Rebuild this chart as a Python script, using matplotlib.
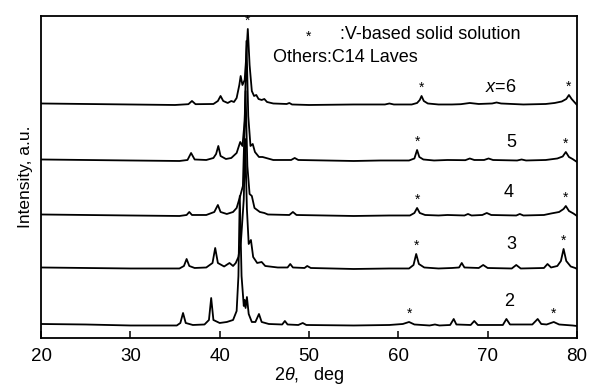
import matplotlib
matplotlib.use('Agg')
import matplotlib.pyplot as plt

plt.rcParams['font.family'] = ['Liberation Sans', 'DejaVu Sans']
plt.rcParams['mathtext.fontset'] = 'custom'
plt.rcParams['mathtext.rm'] = 'Liberation Sans'
plt.rcParams['mathtext.it'] = 'Liberation Sans:italic'

# 2theta / intensity, intensity in px above each baseline
tt_6 = [20, 25, 30, 35, 36.5, 36.9, 37.3, 39.3, 39.8, 40.1, 40.4, 40.9, 41.3, 41.6,
        41.9, 42.2, 42.35, 42.55, 42.8, 42.95, 43.15, 43.35, 43.6, 43.85, 44.1, 44.35,
        44.7, 45.0, 45.3, 46, 47.5, 47.8, 48.1, 50, 55, 58.5, 59, 59.5, 61.5, 62.1,
        62.4, 62.6, 62.85, 63.3, 64.5, 66, 67, 68, 69, 70.5, 71, 71.5, 74, 76.5, 77.5,
        78.3, 78.8, 79.1, 79.4, 79.7, 80]
int_6 = [1.5, 1, 0.5, 0, 0.8, 4, 0.8, 1, 4, 9, 4, 2, 4, 3,
         7, 20, 29, 20, 25, 45, 76, 40, 14, 9, 10, 6,
         5, 6, 3, 1.5, 1, 2, 0.5, 0, 0.5, 0.5, 1.5, 0.5, 0.5, 2,
         5, 9, 4, 1.5, 0.5, 0.5, 0.8, 2, 1, 1.5, 2.5, 1.5, 0.5, 1, 2,
         3.5, 6, 10, 6, 3, 0]

tt_5 = [20, 25, 30, 35.5, 36.4, 36.8, 37.2, 38.5, 39.3, 39.6, 39.85, 40.1, 40.7, 41.3,
        41.9, 42.3, 42.55, 42.8, 43.0, 43.2, 43.45, 43.7, 43.95, 44.4, 44.8, 45.2, 46,
        48.0, 48.4, 48.8, 55, 58, 61.2, 61.8, 62.1, 62.35, 62.8, 64, 65.5, 67.5, 68.0,
        68.5, 69.6, 70.1, 70.6, 73.3, 73.8, 74.3, 76.5, 77.8, 78.4, 78.75, 79.1, 79.5, 80]
int_5 = [1.5, 1, 0.5, 0, 1, 8, 1.5, 1, 3, 7, 15, 5, 2, 3,
         8, 19, 15, 40, 120, 45, 15, 17, 9, 4, 4, 3, 1,
         1, 3, 1, 0, 0.5, 0.5, 2.5, 11, 4, 1.5, 0.5, 1, 0.8, 2.5,
         1, 1, 2.5, 1, 0.5, 1.5, 0.5, 1, 2.5, 4.5, 9, 4, 2, -1]

tt_4 = [20, 25, 30, 35.5, 36.3, 36.6, 36.9, 38.5, 39.4, 39.8, 40.1, 40.8, 41.5, 41.9,
        42.3, 42.6, 42.9, 43.1, 43.35, 43.6, 43.9, 44.5, 45.0, 45.4, 47.8, 48.2, 48.6,
        55, 59, 61.3, 61.8, 62.1, 62.4, 63, 64.5, 65.5, 67.4, 67.8, 68.2, 69.4, 69.9,
        70.4, 73.2, 73.6, 74, 76.3, 77.1, 78.0, 78.5, 78.75, 79.1, 79.6, 80]
int_4 = [1.5, 1, 0.5, 0, 1, 4, 1, 1, 4, 11, 4, 2, 4, 8,
         20, 30, 125, 50, 22, 20, 8, 4, 3, 1.5, 1, 4, 1,
         0, 0.5, 0.5, 3, 8, 3, 1, 0.5, 1, 0.5, 2, 0.5, 1, 3,
         1, 0.5, 2, 0.5, 1, 2.5, 4, 7, 10, 5, 2.5, 0]

tt_3 = [20, 25, 30, 35.5, 36.0, 36.3, 36.6, 37.2, 38.5, 39.2, 39.5, 39.8, 40.5, 41.1,
        41.5, 41.8, 42.1, 42.4, 42.7, 42.85, 43.05, 43.25, 43.5, 43.75, 44.2, 44.7,
        45.1, 46.5, 47.6, 47.9, 48.2, 49.5, 49.8, 50.2, 55, 59, 61.2, 61.7, 62.0, 62.3,
        62.9, 64.5, 66, 66.8, 67.1, 67.4, 69.0, 69.5, 70.0, 72.7, 73.2, 73.7, 76.3,
        76.7, 77.1, 77.8, 78.2, 78.5, 78.8, 79.3, 79.8, 80]
int_3 = [1.5, 1, 0.5, 0.5, 3, 10, 3, 1, 1.5, 6, 21, 6, 2.5, 6,
         3, 6, 12, 30, 70, 130, 60, 25, 29, 12, 6, 7,
         3, 1.5, 1.5, 5, 1.5, 1, 3, 1, 0, 0.5, 0.5, 4, 15, 5,
         1.5, 0.5, 1, 1.5, 6, 1.5, 1, 4, 1, 0.5, 4, 0.5, 1,
         5, 1.5, 3, 8, 20, 8, 2.5, 1, 0]

tt_2 = [20, 25, 30, 35.2, 35.6, 35.9, 36.2, 37, 38.3, 38.8, 39.05, 39.3, 40.0, 40.8,
        41.5, 41.9, 42.1, 42.25, 42.45, 42.7, 42.8, 42.9, 43.05, 43.25, 43.6, 44.0,
        44.4, 44.7, 45.5, 47.0, 47.3, 47.6, 48.8, 49.3, 49.7, 55, 59, 60.5, 61.2, 61.8,
        63.5, 64.1, 64.6, 65.8, 66.2, 66.5, 68.1, 68.5, 68.9, 71.7, 72.1, 72.5, 75.0,
        75.6, 76.0, 76.6, 77.4, 78.0, 79.5, 80]
int_2 = [2, 1.5, 0.5, 0.5, 3, 13, 3, 1, 1.5, 6, 28, 6, 3, 4,
         6, 15, 50, 130, 50, 20, 26, 18, 29, 12, 4, 4,
         12, 4, 2, 1.5, 5, 1.5, 1, 3, 1, 0.5, 1, 2, 4, 1.5,
         0.5, 1.5, 0.5, 1, 7, 1.5, 1, 5, 1, 1, 7, 1.5, 1.5,
         7, 2, 1.5, 4, 1.5, 0.5, 0]

patterns = [(tt_6, int_6), (tt_5, int_5), (tt_4, int_4), (tt_3, int_3), (tt_2, int_2)]
offsets = [233, 177, 122, 69, 12]
labels = ['$x$=6', '5', '4', '3', '2']
label_pos = [(71.5, 250), (72.6, 195), (72.4, 145), (72.6, 93), (72.4, 36)]

# V-based solid solution peaks (2theta) for each pattern
star_tt = [[43.15, 62.6, 79.1], [62.1, 78.75], [62.1, 78.75], [62.0, 78.5], [61.2, 77.4]]

fig = plt.figure(figsize=(5.96, 3.88), dpi=100)
ax = fig.add_axes([0.0688, 0.1289, 0.8993, 0.8299])

for (tt, inten), off, star, lab, (lx, ly) in zip(patterns, offsets, star_tt, labels, label_pos):
    ys = [v + off for v in inten]
    ax.plot(tt, ys, color='black', linewidth=1.3)
    for s in star:
        top = max(v for t, v in zip(tt, ys) if abs(t - s) < 0.3)
        ax.text(s, top + 1, '*', ha='center', va='bottom', fontsize=10)
    ax.text(lx, ly, lab, ha='center', va='center', fontsize=13)

ax.text(50.0, 301, '*', ha='center', va='center', fontsize=10)
ax.text(53.5, 303, ':V-based solid solution', ha='left', va='center', fontsize=13)
ax.text(46.0, 280, 'Others:C14 Laves', ha='left', va='center', fontsize=13)

ax.set_xlim(20, 80)
ax.set_ylim(0, 322)
ax.set_xticks([20, 30, 40, 50, 60, 70, 80])
ax.set_yticks([])
ax.tick_params(axis='x', direction='in', length=5, width=1.1, labelsize=13.5, pad=7)
for sp in ax.spines.values():
    sp.set_linewidth(1.3)
ax.set_xlabel(r'2$\theta$,   deg', fontsize=13)
ax.xaxis.set_label_coords(0.5, -0.085)
ax.set_ylabel('Intensity, a.u.', fontsize=12.5, labelpad=6)

fig.savefig('out.png', dpi=100)
